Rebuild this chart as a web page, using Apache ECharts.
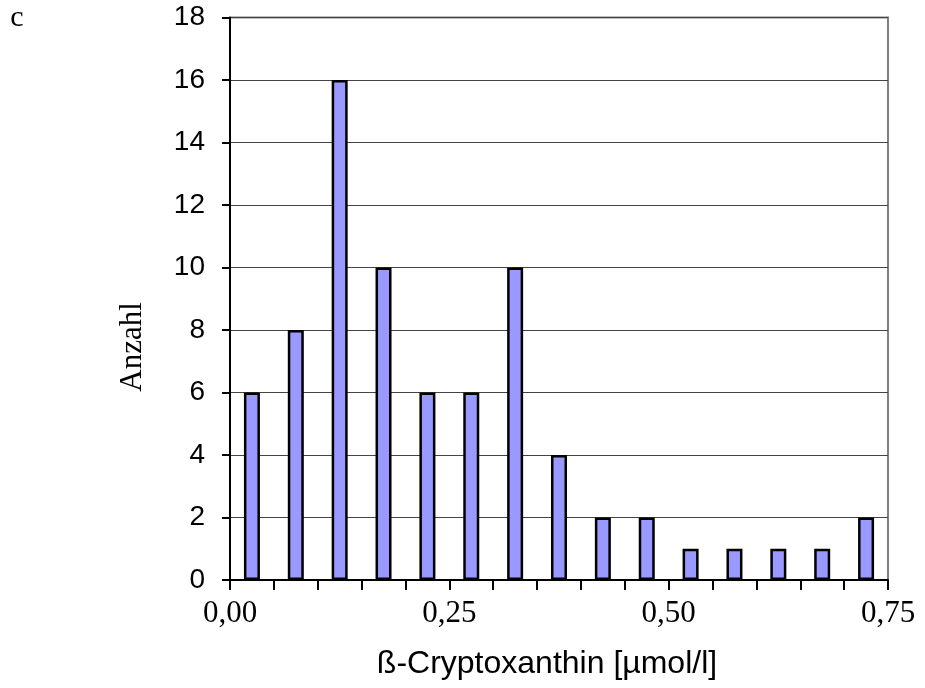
<!DOCTYPE html>
<html><head><meta charset="utf-8">
<script src="https://cdn.jsdelivr.net/npm/echarts@6/dist/echarts.min.js"></script>
<style>html,body{margin:0;padding:0;background:#fff}#c{width:925px;height:688px}</style>
</head><body><div id="c"></div>
<script>
var binCenters = [0.025,0.075,0.125,0.175,0.225,0.275,0.325,0.375,0.425,0.475,0.525,0.575,0.625,0.675,0.725];
var counts = [6,8,16,10,6,6,10,4,2,2,1,1,1,1,2];
var xLabelValues = [0, 0.25, 0.5, 0.75];
var xTitle = 'ß-Cryptoxanthin [µmol/l]';
var yTitle = 'Anzahl';
var panelLabel = 'c';

var chart = echarts.init(document.getElementById('c'), null, {renderer:'canvas'});
var data = binCenters.map(function(x,i){return [x, counts[i]];});
chart.setOption({
  animation:false,
  backgroundColor:'#fff',
  grid:{left:230, right:37, top:17.5, bottom:108, show:true, borderColor:'#808080', borderWidth:2, backgroundColor:'transparent'},
  graphic:[
    {type:'text', x:17, y:18, style:{text:panelLabel, fontFamily:'Liberation Serif', fontSize:30, fill:'#000', align:'center', verticalAlign:'middle'}},
    {type:'text', x:133, y:347, rotation:Math.PI/2, style:{text:yTitle, fontFamily:'Liberation Serif', fontSize:31, fill:'#000', align:'center', verticalAlign:'middle'}},
    {type:'text', x:547, y:664, style:{text:xTitle, fontFamily:'Liberation Sans', fontSize:32, fill:'#000', align:'center', verticalAlign:'middle'}}
  ],
  xAxis:{type:'value', min:0, max:0.75, interval:0.05,
    axisLine:{show:true, lineStyle:{color:'#000', width:2}},
    axisTick:{show:true, length:10, lineStyle:{color:'#000', width:2}},
    axisLabel:{margin:18, fontFamily:'Liberation Serif', fontSize:31, color:'#000',
      formatter:function(v){
        for (var i=0;i<xLabelValues.length;i++){ if (Math.abs(v-xLabelValues[i])<1e-6) return v.toFixed(2).replace('.',','); }
        return '';
      }},
    splitLine:{show:false}
  },
  yAxis:{type:'value', min:0, max:18, interval:2,
    axisLine:{show:true, lineStyle:{color:'#000', width:2}},
    axisTick:{show:true, length:8, lineStyle:{color:'#000', width:2}},
    axisLabel:{margin:25, fontFamily:'Liberation Sans', fontSize:28, color:'#000'},
    splitLine:{show:true, lineStyle:{color:'#444', width:1}}
  },
  series:[{type:'bar', data:data, barWidth:16,
    itemStyle:{color:'#9999FF', borderColor:'#000', borderWidth:2.5}}]
});
</script></body></html>
